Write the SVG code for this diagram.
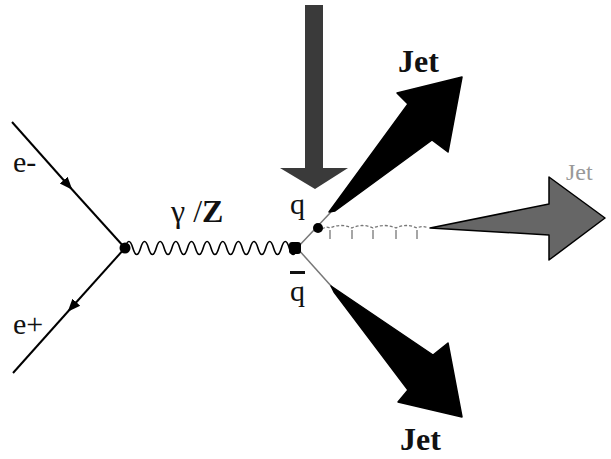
<svg xmlns="http://www.w3.org/2000/svg" width="611" height="459" viewBox="0 0 611 459">
<style>
.lbl{font-family:"Liberation Serif","Times New Roman",serif;fill:#111}
.fer{stroke:#000;stroke-width:2;fill:none}
.thin{stroke:#777;stroke-width:1.5;fill:none}
.dot{fill:#000}
.jet{fill:#000;stroke:#000;stroke-width:1.5;stroke-linejoin:round}
</style>
<defs>
<marker id="fa" viewBox="0 0 10 10" refX="5" refY="5" markerWidth="13" markerHeight="13" markerUnits="userSpaceOnUse" orient="auto">
<path d="M0,1 L10,5 L0,9 Z" fill="#000"/>
</marker>
</defs>
<rect width="611" height="459" fill="#fff"/>
<g id="connectors">
<path class="fer" d="M12,122 L68,185" marker-end="url(#fa)"/>
<path class="fer" d="M68,185 L125,248"/>
<path class="fer" d="M125,248 L72,307" marker-end="url(#fa)"/>
<path class="fer" d="M72,307 L13,373"/>
<path id="photon" d="M125,248 q3.91,-13 7.82,0 t7.82,0 t7.82,0 t7.82,0 t7.82,0 t7.82,0 t7.82,0 t7.82,0 t7.82,0 t7.82,0 t7.82,0 t7.82,0 t7.82,0 t7.82,0 t7.82,0 t7.82,0 t7.82,0 t7.82,0 t7.82,0 t7.82,0 t7.82,0 t7.82,0" stroke="#000" stroke-width="1.6" fill="none"/>
<path class="thin" d="M297,248 L331,212"/>
<path class="thin" d="M297,248 L332,287"/>
<g id="gluon" stroke="#777" stroke-width="1.3" fill="none">
<path d="M322,229 Q326,226 330,228 Q341,223 352,228 Q362,223 373,228 Q384,223 396,228 Q406,223 417,228 Q423,225 428,228" stroke-dasharray="3,2"/>
<path d="M330,230 v9 M352,230 v9 M373,230 v9 M396,230 v9 M417,230 v9"/>
</g>
</g>
<g id="vertex-left"><circle class="dot" cx="125" cy="248" r="5.5"/></g>
<g id="vertex-right"><rect class="dot" x="289" y="242" width="12" height="12" rx="3"/></g>
<g id="vertex-q"><circle class="dot" cx="318" cy="228" r="5"/></g>
<g id="beam-arrow">
<path d="M305,5 H323 V168 H348 L315,189 L280,168 H305 Z" fill="#3a3a3a"/>
</g>
<g id="jet-up">
<path class="jet" d="M329,212 L408,104 L397,93 L462,77 L448,152 L432,140 L335,211 Z"/>
</g>
<g id="jet-down">
<path class="jet" d="M331,286 L433,355 L448,343 L462,417 L398,402 L408,390 L334,292 Z"/>
</g>
<g id="jet-right">
<path d="M430,228 L549,204 L549,177 L605,218 L549,260 L549,235 Z" fill="#666" stroke="#000" stroke-width="1.5" stroke-linejoin="round"/>
</g>
<g id="labels">
<text class="lbl" x="13" y="172" font-size="30">e-</text>
<text class="lbl" x="13" y="334" font-size="30">e+</text>
<text class="lbl" x="171" y="222" font-size="32">γ /<tspan font-weight="bold">Z</tspan></text>
<text class="lbl" x="290" y="214" font-size="30">q</text>
<text class="lbl" x="290" y="301" font-size="30" style="text-decoration:overline">q</text>
<text class="lbl" x="398" y="72" font-size="32" font-weight="bold">Jet</text>
<text class="lbl" x="400" y="450" font-size="32" font-weight="bold">Jet</text>
<text x="566" y="180" font-size="24" font-family="Liberation Serif, serif" fill="#999">Jet</text>
</g>
</svg>
